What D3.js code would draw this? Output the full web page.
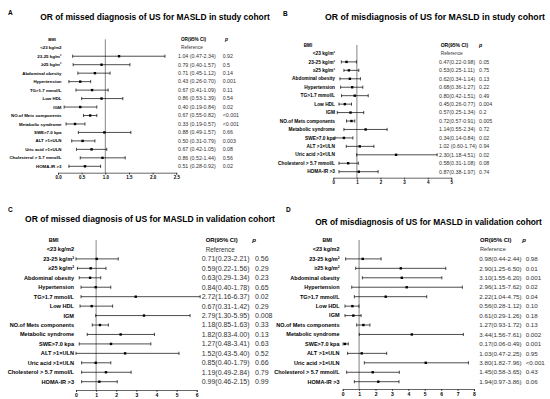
<!DOCTYPE html>
<html>
<head>
<meta charset="utf-8">
<script src="https://cdn.jsdelivr.net/npm/d3@7"></script>
<style>
  body { margin: 0; background: #fff; }
  svg { display: block; font-family: "Liberation Sans", Arial, sans-serif; }
</style>
</head>
<body>
<div id="chart"></div>
<script>
// row labels (first row is the BMI reference group)
var rowsA = ["<23 kg/m2", "23-25 kg/m²", "≥25 kg/m²", "Abdominal obesity", "Hypertension", "TG>1.7 mmol/L", "Low HDL", "IGM",
  "NO.of Mets components", "Metabolic syndrome", "SWE>7.0 kpa", "ALT >1×ULN", "Uric acid >1×ULN", "Cholesterol > 5.7 mmol/L", "HOMA-IR >3"];
var rowsB = ["<23 kg/m²"].concat(rowsA.slice(1));
var rowsC = rowsA;
var rowsD = rowsA;

// plotted OR and CI
var ptA = [null, 1.29, 0.92, 0.78, 0.47, 0.72, 0.92, 0.47, 0.68, 0.36, 0.98, 0.52, 0.71, 0.94, 0.57];
var loA = [null, 0.31, 0.32, 0.42, 0.23, 0.38, 0.50, 0.13, 0.54, 0.17, 0.43, 0.29, 0.39, 0.47, 0.23];
var hiA = [null, 2.26, 1.52, 1.10, 0.69, 1.06, 1.37, 0.82, 0.82, 0.57, 1.54, 0.78, 1.03, 1.42, 0.90];

var ptB = [null, 0.56, 0.66, 0.70, 0.80, 0.91, 0.49, 0.73, 0.77, 1.37, 0.45, 1.12, 2.66, 0.63, 1.08];
var loB = [null, 0.34, 0.45, 0.28, 0.31, 0.35, 0.24, 0.17, 0.56, 0.45, 0.07, 0.55, 0.99, 0.24, 0.24];
var hiB = [null, 0.98, 1.08, 1.15, 1.25, 1.48, 0.77, 1.29, 0.91, 2.28, 0.83, 1.72, 4.40, 1.06, 1.90];

var ptC = [null, 1.03, 0.73, 0.70, 0.98, 2.97, 0.78, 3.38, 1.19, 2.22, 1.74, 2.44, 0.98, 1.49, 1.16];
var loC = [null, 0.00, 0.07, 0.16, 0.25, 0.25, 0.20, 0.98, 0.81, 0.56, 0.16, 0.00, 0.28, 0.28, 0.28];
var hiC = [null, 2.10, 1.49, 1.23, 1.73, 6.17, 1.82, 5.67, 1.61, 3.90, 3.72, 5.12, 1.73, 2.74, 2.05];

var ptD = [null, 1.22, 3.54, 3.60, 3.90, 2.62, 0.59, 0.65, 1.26, 4.21, 0.14, 1.16, 5.06, 1.83, 2.17];
var loD = [null, 0.18, 0.79, 1.20, 0.55, 0.71, 0.14, 0.14, 0.85, 1.01, 0.02, 0.30, 1.32, 0.24, 0.71];
var hiD = [null, 2.34, 6.28, 6.04, 7.29, 5.12, 0.99, 1.12, 1.66, 7.35, 0.34, 2.68, 7.66, 3.45, 3.43];

// printed OR(95% CI) and p columns
var orTextA = ["Reference", "1.04 (0.47-2.34)", "0.79 (0.40-1.57)", "0.71 (0.45-1.12)", "0.43 (0.26-0.70)", "0.67 (0.41-1.09)", "0.86 (0.53-1.39)",
  "0.40 (0.19-0.84)", "0.67 (0.55-0.82)", "0.33 (0.19-0.57)", "0.88 (0.49-1.57)", "0.50 (0.31-0.79)", "0.67 (0.42-1.05)", "0.86 (0.52-1.44)", "0.51 (0.28-0.92)"];
var pA = ["", "0.92", "0.5", "0.14", "0.001", "0.11", "0.54", "0.02", "<0.001", "<0.001", "0.66", "0.003", "0.08", "0.56", "0.02"];

var orTextB = ["Reference", "0.47(0.22-0.98)", "0.53(0.25-1.11)", "0.62(0.34-1.14)", "0.68(0.36-1.27)", "0.80(0.42-1.51)", "0.45(0.26-0.77)",
  "0.57(0.25-1.34)", "0.72(0.57-0.91)", "1.14(0.55-2.34)", "0.34(0.14-0.84)", "1.02 (0.60-1.74)", "2.30(1.18-4.51)", "0.58(0.31-1.08)", "0.87(0.38-1.97)"];
var pB = ["", "0.05", "0.75", "0.13", "0.22", "0.49", "0.004", "0.2", "0.005", "0.72", "0.02", "0.94", "0.02", "0.08", "0.74"];

var orTextC = ["Reference", "0.71(0.23-2.21)", "0.59(0.22-1.56)", "0.63(0.29-1.34)", "0.84(0.40-1.78)", "2.72(1.16-6.37)", "0.67(0.31-1.42)",
  "2.79(1.30-5.95)", "1.18(0.85-1.63)", "1.82(0.83-4.00)", "1.27(0.48-3.41)", "1.52(0.43-5.40)", "0.85(0.40-1.79)", "1.19(0.49-2.84)", "0.99(0.46-2.15)"];
var pC = ["", "0.56", "0.29", "0.23", "0.65", "0.02", "0.29", "0.008", "0.33", "0.13", "0.63", "0.52", "0.66", "0.79", "0.99"];

var orTextD = ["Reference", "0.98(0.44-2.44)", "2.90(1.25-6.50)", "3.10(1.55-6.20)", "2.96(1.15-7.62)", "2.22(1.04-4.75)", "0.56(0.28-1.12)",
  "0.61(0.29-1.26)", "1.27(0.93-1.72)", "3.44(1.56-7.61)", "0.17(0.06-0.49)", "1.03(0.47-2.25)", "3.80(1.82-7.96)", "1.45(0.58-3.65)", "1.94(0.97-3.86)"];
var pD = ["", "0.98", "0.01", "0.001", "0.02", "0.04", "0.10", "0.18", "0.13", "0.002", "0.001", "0.95", "<0.001", "0.43", "0.06"];

var titles = ["OR of missed diagnosis of US for MASLD in study cohort",
  "OR of misdiagnosis of US for MASLD in study cohort",
  "OR of missed diagnosis of US for MASLD in validation cohort",
  "OR of misdiagnosis of US for MASLD in validation cohort"];
var letters = ["A", "B", "C", "D"];
var xTicksA = [0, 0.5, 1, 1.5, 2, 2.5];
var xTicksB = [0, 1, 2, 3, 4, 5];
var xTicksC = [0, 1, 2, 3, 4, 5, 6];
var xTicksD = [0, 1, 2, 3, 4, 5, 6, 7, 8];

var width = 550, height = 399;
var svg = d3.select('#chart').append('svg')
  .attr('width', width)
  .attr('height', height);

var panels = [
  { rows: rowsA, pt: ptA, lo: loA, hi: hiA, orText: orTextA, p: pA, ticks: xTicksA, fmt: d3.format('.1f'),
    letter: [8, 14.5], title: [155, 17, 230], labelRight: 61.5, bmiX: 52, xr: [58, 176.3], yr: [39.3, 166.3], axisY: 172.7,
    orX: 178, orHeadX: 181, pX: 222.7, pHeadX: 225, lf: 4.4, vf: 5.3, tf: 4.5, ref: '#333', refW: 0.6 },
  { rows: rowsB, pt: ptB, lo: loB, hi: hiB, orText: orTextB, p: pB, ticks: xTicksB, fmt: d3.format('d'),
    letter: [283, 15.5], title: [435, 17.3, 220], labelRight: 335, bmiX: 308, xr: [333.3, 451.3], yr: [45, 171.7], axisY: 177.7,
    orX: 439, orHeadX: 440.7, pX: 479, pHeadX: 479, lf: 4.8, vf: 5.3, tf: 4.5, ref: '#333', refW: 0.6 },
  { rows: rowsC, pt: ptC, lo: loC, hi: hiC, orText: orTextC, p: pC, ticks: xTicksC, fmt: d3.format('d'),
    letter: [8, 212], title: [150, 219, 250], labelRight: 74, bmiX: 53.5, xr: [76, 196.7], yr: [240, 381.7], axisY: 390,
    orX: 201.7, orHeadX: 205.7, pX: 255, pHeadX: 252.3, lf: 5.6, vf: 7, tf: 5, ref: '#555', refW: 0.7 },
  { rows: rowsD, pt: ptD, lo: loD, hi: hiD, orText: orTextD, p: pD, ticks: xTicksD, fmt: d3.format('d'),
    letter: [286, 212], title: [428.5, 221.7, 227], labelRight: 339.5, bmiX: 327.3, xr: [342.7, 474], yr: [240, 381.7], axisY: 389,
    orX: 479.3, orHeadX: 480, pX: 525.7, pHeadX: 522.3, lf: 5.5, vf: 6.2, tf: 5, ref: '#aaa', refW: 1.5 }
];

panels.forEach(function(c, k) {
  var g = svg.append('g');

  var x = d3.scaleLinear()
    .domain([0, c.ticks[c.ticks.length - 1]])
    .range(c.xr);
  var y = d3.scalePoint()
    .domain(['BMI'].concat(c.rows))
    .range(c.yr);

  var data = c.rows.map(function(r, i) {
    return { row: r, pt: c.pt[i], lo: c.lo[i], hi: c.hi[i], or: c.orText[i], p: c.p[i] };
  });

  // panel letter
  g.append('text')
    .attr('x', c.letter[0]).attr('y', c.letter[1])
    .attr('font-size', 6.5).attr('font-weight', 'bold')
    .text(letters[k]);

  // title, sized to the width it takes in the figure
  var t = g.append('text')
    .attr('x', c.title[0]).attr('y', c.title[1])
    .attr('dy', '0.35em')
    .attr('text-anchor', 'middle')
    .attr('font-weight', 'bold')
    .attr('font-size', 10)
    .text(titles[k]);
  var len = t.node().getComputedTextLength();
  t.attr('font-size', 10 * c.title[2] / len);

  // reference line at OR = 1
  g.append('line')
    .attr('x1', x(1)).attr('x2', x(1))
    .attr('y1', y('BMI')).attr('y2', c.axisY)
    .attr('stroke', c.ref)
    .attr('stroke-width', c.refW);

  // axis
  var axis = g.append('g')
    .attr('transform', 'translate(0,' + c.axisY + ')')
    .call(d3.axisBottom(x).tickValues(c.ticks).tickFormat(c.fmt).tickSize(2).tickPadding(1.5));
  axis.select('.domain').attr('stroke-width', 0.6);
  axis.selectAll('.tick line').attr('stroke-width', 0.6);
  axis.selectAll('text')
    .attr('font-size', c.tf)
    .attr('font-weight', 'bold')
    .attr('font-family', '"Liberation Sans", Arial, sans-serif');

  // header row
  g.append('text')
    .attr('x', c.bmiX).attr('y', y('BMI')).attr('dy', '0.35em')
    .attr('text-anchor', 'middle')
    .attr('font-size', c.lf * 0.95).attr('font-weight', 'bold')
    .text('BMI');
  g.append('text')
    .attr('x', c.orHeadX).attr('y', y('BMI')).attr('dy', '0.35em')
    .attr('font-size', c.lf * 1.05).attr('font-weight', 'bold')
    .text('OR(95% CI)');
  g.append('text')
    .attr('x', c.pHeadX).attr('y', y('BMI')).attr('dy', '0.35em')
    .attr('font-size', c.lf * 1.1).attr('font-weight', 'bold').attr('font-style', 'italic')
    .text('p');

  // row labels
  g.append('g')
    .selectAll('text')
    .data(data)
    .enter()
    .append('text')
    .attr('x', c.labelRight)
    .attr('y', (d) => y(d.row))
    .attr('dy', '0.35em')
    .attr('text-anchor', 'end')
    .attr('font-size', c.lf)
    .attr('font-weight', 'bold')
    .text((d) => d.row);

  // OR text
  g.append('g')
    .selectAll('text')
    .data(data)
    .enter()
    .append('text')
    .attr('x', (d, i) => i === 0 ? c.orHeadX : c.orX)
    .attr('y', (d) => y(d.row))
    .attr('dy', '0.35em')
    .attr('font-size', (d, i) => i === 0 ? c.vf * 0.9 : c.vf)
    .attr('fill', '#333')
    .text((d) => d.or);

  // p text
  g.append('g')
    .selectAll('text')
    .data(data)
    .enter()
    .append('text')
    .attr('x', c.pX)
    .attr('y', (d) => y(d.row))
    .attr('dy', '0.35em')
    .attr('font-size', c.vf)
    .attr('fill', '#333')
    .text((d) => d.p);

  // CI bars
  var bars = data.filter((d) => d.pt !== null);
  var capH = 1.6;
  var eb = g.append('g').selectAll('g')
    .data(bars)
    .enter()
    .append('g')
    .attr('stroke', '#000')
    .attr('stroke-width', 0.7);
  eb.append('line')
    .attr('x1', (d) => x(d.lo)).attr('x2', (d) => x(d.hi))
    .attr('y1', (d) => y(d.row)).attr('y2', (d) => y(d.row));
  eb.append('line')
    .attr('x1', (d) => x(d.lo)).attr('x2', (d) => x(d.lo))
    .attr('y1', (d) => y(d.row) - capH).attr('y2', (d) => y(d.row) + capH);
  eb.append('line')
    .attr('x1', (d) => x(d.hi)).attr('x2', (d) => x(d.hi))
    .attr('y1', (d) => y(d.row) - capH).attr('y2', (d) => y(d.row) + capH);

  // point estimates
  g.append('g')
    .selectAll('rect')
    .data(bars)
    .enter()
    .append('rect')
    .attr('x', (d) => x(d.pt) - 1.2)
    .attr('y', (d) => y(d.row) - 1.2)
    .attr('width', 2.4)
    .attr('height', 2.4)
    .attr('fill', '#000');
});
</script>
</body>
</html>
